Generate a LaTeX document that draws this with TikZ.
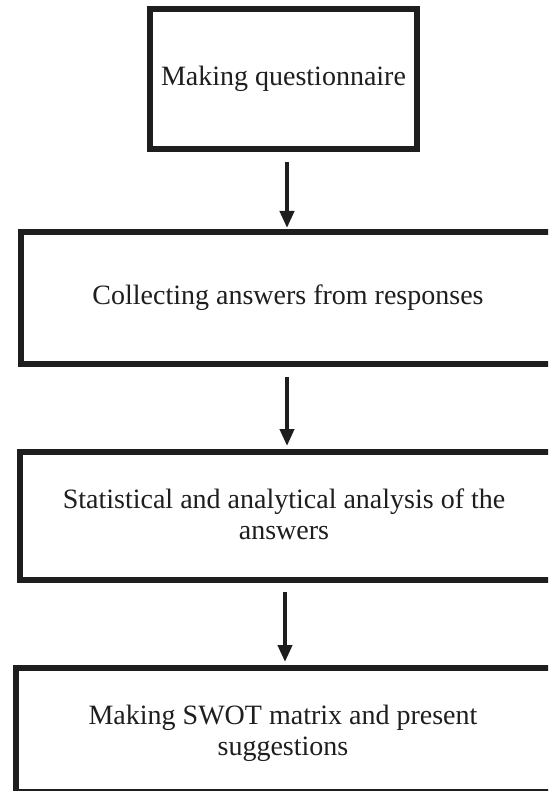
\documentclass[tikz,border=0pt]{standalone}
\usepackage{fontspec}
\setmainfont{Liberation Serif}
\usetikzlibrary{arrows.meta}
\definecolor{ink}{HTML}{1E1E1E}
\begin{document}
\begin{tikzpicture}[x=1pt,y=-1pt,
  box/.style={draw=ink, line width=6pt, fill=white, inner sep=0pt},
  flow/.style={-{Triangle[width=14pt,length=17pt]}, line width=4pt, draw=ink},
  lbl/.style={font=\fontsize{28}{31}\selectfont, align=center, text=ink}]
\useasboundingbox (0,0) rectangle (548,791);
\fill[white] (0,0) rectangle (548,791);
\begin{scope}
\clip (0,0) rectangle (548,791);
\node[box, minimum width=267pt, minimum height=139.5pt] (b1) at (283.5,79.25) {};
\node[box, minimum width=534pt, minimum height=132pt] (b2) at (288,298) {};
\node[box, minimum width=534pt, minimum height=128pt] (b3) at (287,516) {};
\node[box, minimum width=540pt, minimum height=124pt] (b4) at (286,730) {};
\end{scope}
\node[lbl] (t1) at (283.5,79) {Making questionnaire};
\node[lbl] (t2) at (288,298) {Collecting answers from responses};
\node[lbl] (t3) at (284,514) {Statistical and analytical analysis of the\\answers};
\node[lbl] (t4) at (283,733) {Making SWOT matrix and present\\suggestions};
\draw[flow, shorten <=10pt, shorten >=1pt] ([xshift=3.5pt]b1.south) -- ([xshift=3.5pt]b1.south |- b2.north);
\draw[flow, shorten <=10pt, shorten >=3pt] ([xshift=-1pt]b2.south) -- ([xshift=-1pt]b2.south |- b3.north);
\draw[flow, shorten <=9pt, shorten >=3pt] ([xshift=-2pt]b3.south) -- ([xshift=-2pt]b3.south |- b4.north);
\end{tikzpicture}
\end{document}
